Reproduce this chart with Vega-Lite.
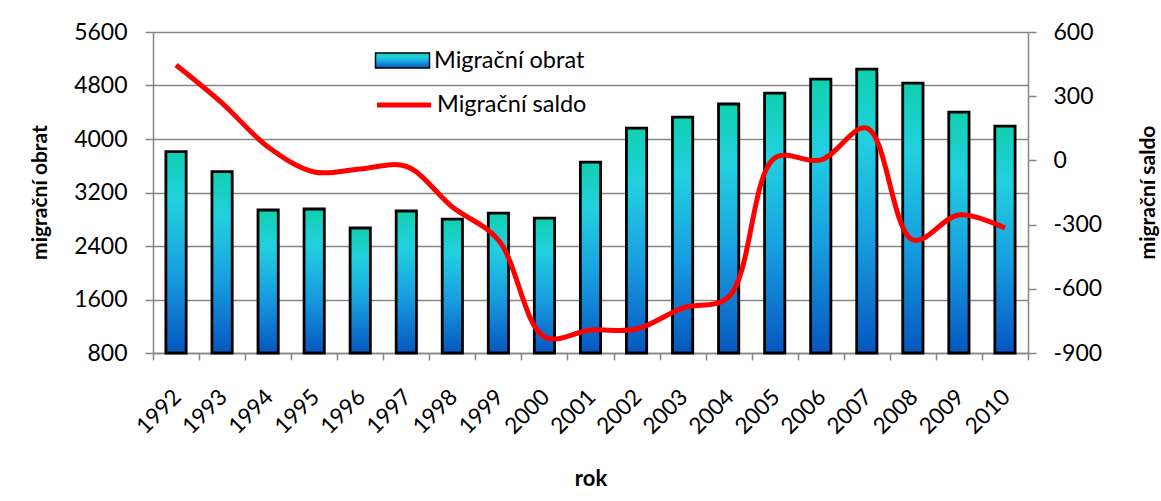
{
  "$schema": "https://vega.github.io/schema/vega-lite/v6.json",
  "width": 875,
  "height": 321,
  "autosize": {"type": "none"},
  "padding": {"left": 153, "top": 32, "right": 133, "bottom": 148},
  "background": "white",
  "config": {
    "view": {"stroke": null},
    "font": "Lato",
    "axis": {"labelFont": "Lato", "titleFont": "Lato", "labelColor": "black", "titleColor": "black"},
    "legend": {"labelFont": "Lato", "labelFontSize": 23.5, "labelColor": "black", "padding": 0, "symbolSize": 729, "labelOffset": 17, "labelLimit": 400, "orient": "none"}
  },
  "data": {
    "values": [
      {"rok": "1992", "obrat": 3810, "saldo": 446},
      {"rok": "1993", "obrat": 3511, "saldo": 268},
      {"rok": "1994", "obrat": 2938, "saldo": 63},
      {"rok": "1995", "obrat": 2953, "saldo": -54},
      {"rok": "1996", "obrat": 2669, "saldo": -40},
      {"rok": "1997", "obrat": 2923, "saldo": -28},
      {"rok": "1998", "obrat": 2803, "saldo": -218},
      {"rok": "1999", "obrat": 2893, "saldo": -372},
      {"rok": "2000", "obrat": 2818, "saldo": -825},
      {"rok": "2001", "obrat": 3655, "saldo": -793},
      {"rok": "2002", "obrat": 4164, "saldo": -788},
      {"rok": "2003", "obrat": 4328, "saldo": -690},
      {"rok": "2004", "obrat": 4523, "saldo": -638},
      {"rok": "2005", "obrat": 4687, "saldo": 11},
      {"rok": "2006", "obrat": 4896, "saldo": 2},
      {"rok": "2007", "obrat": 5046, "saldo": 151},
      {"rok": "2008", "obrat": 4837, "saldo": -372},
      {"rok": "2009", "obrat": 4403, "saldo": -255},
      {"rok": "2010", "obrat": 4194, "saldo": -316}
    ]
  },
  "layer": [
    {
      "mark": {
        "type": "bar",
        "width": {"band": 0.44},
        "stroke": "black",
        "strokeWidth": 2.8,
        "fill": {
          "gradient": "linear",
          "x1": 0, "y1": 0, "x2": 0, "y2": 1,
          "stops": [
            {"offset": 0, "color": "#10d0b0"},
            {"offset": 0.25, "color": "#22d0e0"},
            {"offset": 0.6, "color": "#189ee0"},
            {"offset": 1, "color": "#0656c0"}
          ]
        }
      },
      "encoding": {
        "x": {
          "field": "rok",
          "type": "ordinal",
          "scale": {"paddingInner": 0, "paddingOuter": 0},
          "axis": {
            "title": "rok",
            "titleFontSize": 22,
            "titleFontWeight": "bold",
            "titleBaseline": "alphabetic",
            "titleY": 132,
            "labelAngle": -45,
            "labelAlign": "right",
            "labelBaseline": "middle",
            "labelFontSize": 22.5,
            "labelPadding": 33,
            "labelOffset": 1,
            "tickBand": "extent",
            "tickSize": 7,
            "tickColor": "#868686",
            "tickWidth": 1.5,
            "domainColor": "#868686",
            "domainWidth": 1.5,
            "grid": false
          }
        },
        "y": {
          "field": "obrat",
          "type": "quantitative",
          "scale": {"domain": [800, 5600], "zero": false, "nice": false},
          "axis": {
            "title": "migrační obrat",
            "titleFontSize": 21,
            "titleFontWeight": "bold",
            "titleAngle": -90,
            "titleBaseline": "middle",
            "titleX": -113,
            "titleY": 160,
            "values": [800, 1600, 2400, 3200, 4000, 4800, 5600],
            "labelExpr": "'' + datum.value",
            "labelFontSize": 23,
            "labelPadding": 18,
            "tickSize": 8,
            "tickColor": "#868686",
            "tickWidth": 1.5,
            "domainColor": "#868686",
            "domainWidth": 1.5,
            "grid": true,
            "gridColor": "#868686",
            "gridWidth": 1.5
          }
        },
        "y2": {"datum": 800},
        "opacity": {
          "datum": "Migrační obrat",
          "type": "nominal",
          "scale": {"range": [1]},
          "legend": {
            "title": null,
            "legendX": 235,
            "legendY": 14,
            "symbolType": "M-2,-0.55H2V0.55H-2Z",
            "encode": {
              "symbols": {
                "stroke": {"value": "black"},
                "strokeWidth": {"value": 2.8},
                "fill": {"value": {"gradient": "linear", "x1": 0, "y1": 0, "x2": 1, "y2": 0, "stops": [{"offset": 0, "color": "#22d3e0"}, {"offset": 1, "color": "#0a6ad0"}]}}
              }
            }
          }
        }
      }
    },
    {
      "mark": {"type": "line", "strokeWidth": 5, "interpolate": "catmull-rom"},
      "encoding": {
        "x": {"field": "rok", "type": "ordinal"},
        "y": {
          "field": "saldo",
          "type": "quantitative",
          "scale": {"domain": [-900, 600], "zero": false, "nice": false},
          "axis": {
            "orient": "right",
            "title": "migrační saldo",
            "titleFontSize": 21,
            "titleFontWeight": "bold",
            "titleAngle": -90,
            "titleBaseline": "middle",
            "titleX": 120,
            "titleY": 160,
            "values": [-900, -600, -300, 0, 300, 600],
            "labelExpr": "'' + datum.value",
            "labelFontSize": 23,
            "labelPadding": 17,
            "tickSize": 8,
            "tickColor": "#868686",
            "tickWidth": 1.5,
            "domainColor": "#868686",
            "domainWidth": 1.5,
            "grid": false
          }
        },
        "color": {
          "datum": "Migrační saldo",
          "type": "nominal",
          "scale": {"range": ["#ff0000"]},
          "legend": {
            "title": null,
            "legendX": 235,
            "legendY": 57,
            "symbolType": "M-2,0H2",
            "symbolStrokeWidth": 5
          }
        }
      }
    }
  ],
  "resolve": {"scale": {"y": "independent"}}
}
